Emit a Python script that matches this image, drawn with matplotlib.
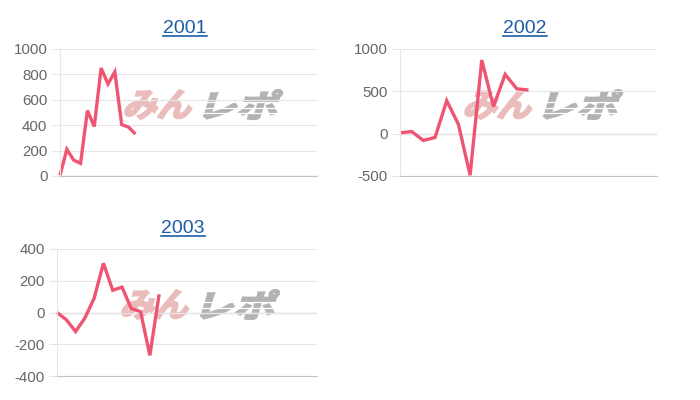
#!/usr/bin/env python3
# -*- coding: utf-8 -*-
import matplotlib
matplotlib.use("Agg")
import matplotlib.pyplot as plt
from matplotlib.textpath import TextPath
from matplotlib.font_manager import FontProperties
from matplotlib.patches import PathPatch
from matplotlib.lines import Line2D
from matplotlib.transforms import Affine2D

years = ["2001", "2002", "2003"]
months = list(range(12))
v2001 = [5, 210, 125, 100, 515, 390, 850, 725, 820, 405, 385, 330]
v2002 = [10, 25, -80, -45, 390, 110, -490, 870, 320, 700, 530, 515]
v2003 = [0, -45, -120, -35, 90, 310, 140, 160, 25, 5, -270, 115]
yticks = {
    "2001": [0, 200, 400, 600, 800, 1000],
    "2002": [-500, 0, 500, 1000],
    "2003": [-400, -200, 0, 200, 400],
}

W, H = 700, 400
LINE = "#ef5473"
GRID = "#e6e6e6"
TXT = "#666666"
LINK = "#1b5ea6"

# panel layout in pixels: left, top, right, bottom, x-span
panels = [
    (v2001, 60, 49, 317, 176, 37.5),
    (v2002, 400, 49, 657, 176, 22.0),
    (v2003, 57, 249, 317, 376, 28.0),
]

fig = plt.figure(figsize=(W / 100, H / 100), dpi=100)
fig.patch.set_facecolor("white")

jp = FontProperties(family="Noto Sans CJK JP", weight="bold")


def logo_part(s, col, x0, top, w, h):
    tp = TextPath((0, 0), s, size=40, prop=jp)
    ext = tp.get_extents()
    sx = (w - 0.3 * h) / ext.width
    sy = h / ext.height
    tr = (Affine2D().translate(-ext.x0, -ext.y0).scale(sx, sy)
          .skew_deg(17, 0).translate(x0, H - top - h)
          .scale(1 / W, 1 / H) + fig.transFigure)
    fig.add_artist(PathPatch(tp, transform=tr, facecolor=col, edgecolor=col,
                             lw=1.5, joinstyle="miter", zorder=1))


def watermark(l, t):
    x0, top = l + 63, t + 41
    logo_part("みん", "#ebbcbc", x0, top, 74, 29)
    logo_part("レポ", "#b3b3b3", x0 + 80, top, 80, 29)
    for fy in (0.42, 0.62, 0.8):
        yy = H - top - 29 * fy
        fig.add_artist(Line2D([(x0 + 80) / W, (x0 + 165) / W], [yy / H, yy / H],
                              color="white", lw=0.9, zorder=1.5))


for (vals, l, t, r, b, span), yr in zip(panels, years):
    ax = fig.add_axes([l / W, 1 - b / H, (r - l) / W, (b - t) / H])
    ax.patch.set_alpha(0)
    ax.set_zorder(2)
    ax.plot(months, vals, color=LINE, lw=2.4, solid_joinstyle="miter",
            solid_capstyle="butt", clip_on=False)
    tk = yticks[yr]
    ax.set_ylim(tk[0], tk[-1])
    ax.set_xlim(0, span)
    ax.set_yticks(tk)
    ax.set_yticklabels([str(v) for v in tk], fontsize=10.8,
                       color=TXT, family="Liberation Sans")
    ax.set_xticks([])
    ax.tick_params(axis="y", length=6, color=GRID, pad=3)
    ax.grid(True, axis="y", color=GRID, lw=0.8)
    ax.axhline(0, color="#c2c2c2", lw=0.9, zorder=0.5)
    for s in ("top", "right"):
        ax.spines[s].set_visible(False)
    ax.spines["left"].set_color(GRID)
    ax.spines["bottom"].set_color("#c2c2c2")

    # underlined link-style title
    cx = (l + r) / 2 - 4
    base = t - 16
    fig.text(cx / W, 1 - base / H, yr, ha="center", va="baseline",
             fontsize=14, color=LINK, family="Liberation Sans")
    fig.add_artist(Line2D([(cx - 22) / W, (cx + 22) / W],
                          [1 - (base + 3) / H, 1 - (base + 3) / H],
                          color=LINK, lw=1.2))
    watermark(l, t)

fig.savefig("out.png", dpi=100, facecolor="white")
